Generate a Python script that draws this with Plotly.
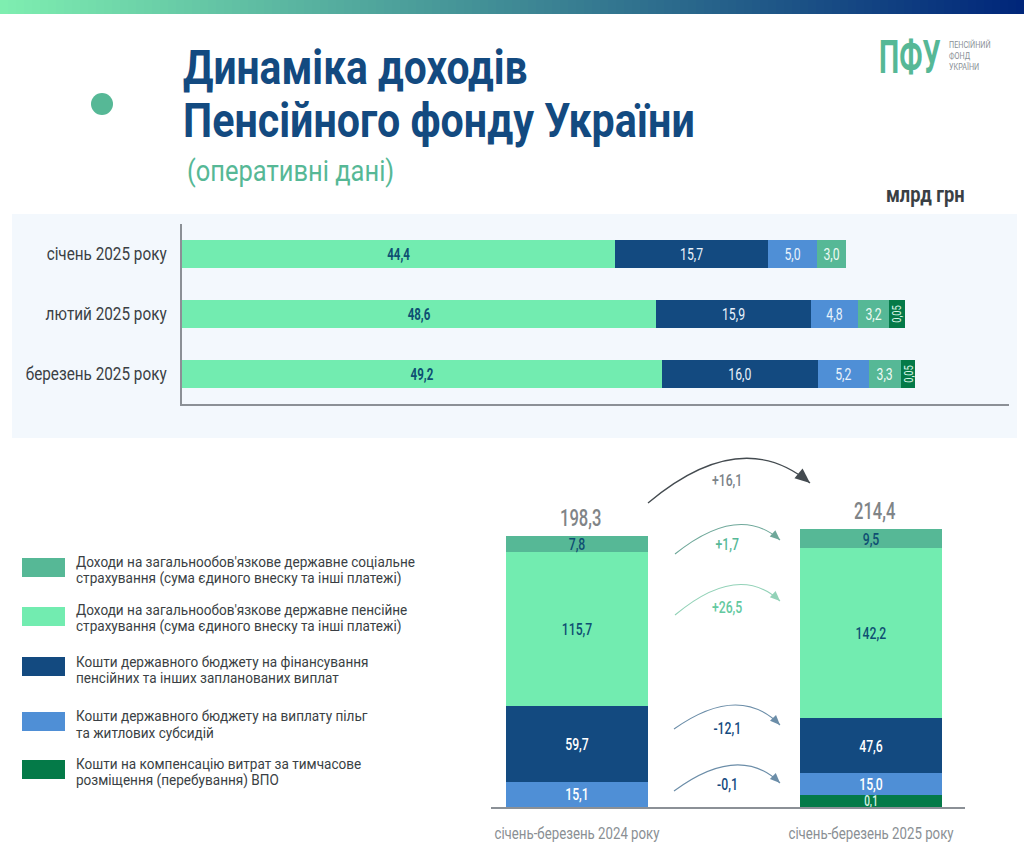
import plotly.graph_objects as go

W, H = 1024, 858
NARROW = "Roboto, sans-serif"

C_SOC = "#56b896"
C_PENS = "#72ecb0"
C_BUD = "#134a80"
C_SUB = "#4f8fd6"
C_VPO = "#047a48"
C_DARK = "#0e4f72"

# Monthly chart
months = ["січень 2025 року", "лютий 2025 року", "березень 2025 року"]
m_pens = [44.4, 48.6, 49.2]
m_bud = [15.7, 15.9, 16.0]
m_sub = [5.0, 4.8, 5.2]
m_soc = [3.0, 3.2, 3.3]
# the reference draws this tiny segment far wider than its printed value
m_vpo_drawn = [0, 1.6, 1.5]
m_vpo_text = ["", "0,05", "0,05"]

# Quarter chart: printed figures, and segment heights as the reference draws them
periods = ["січень-березень 2024 року", "січень-березень 2025 року"]
q_soc_text = ["7,8", "9,5"]
q_pens_text = ["115,7", "142,2"]
q_bud_text = ["59,7", "47,6"]
q_sub_text = ["15,1", "15,0"]
q_vpo_text = ["", "0,1"]
q_soc_drawn = [12.0, 14.3]
q_pens_drawn = [115.7, 127.8]
q_bud_drawn = [57.1, 41.4]
q_sub_drawn = [18.8, 16.5]
q_vpo_drawn = [0, 9.0]
q_totals = ["198,3", "214,4"]

# Change labels
delta_labels = ["+16,1", "+1,7", "+26,5", "-12,1", "-0,1"]
legend_labels = [
    ["Доходи на загальнообов'язкове державне соціальне", "страхування (сума єдиного внеску та інші платежі)"],
    ["Доходи на загальнообов'язкове державне пенсійне", "страхування (сума єдиного внеску та інші платежі)"],
    ["Кошти державного бюджету на фінансування", "пенсійних та інших запланованих виплат"],
    ["Кошти державного бюджету на виплату пільг", "та житлових субсидій"],
    ["Кошти на компенсацію витрат за тимчасове", "розміщення (перебування) ВПО"],
]


def fx(x):
    return x / W


def fy(y):
    return 1 - y / H


def fmt(vals):
    return [f"{v:.1f}".replace(".", ",") for v in vals]


fig = go.Figure()


def hbar(vals, color, text, tcolor, size=17, angle=0, weight=400):
    fig.add_trace(go.Bar(
        y=months, x=vals, orientation="h", marker=dict(color=color, line_width=0),
        text=text, textposition="inside", insidetextanchor="middle",
        textangle=angle, constraintext="none", cliponaxis=False,
        textfont=dict(family=NARROW, size=size, color=tcolor, weight=weight),
        hoverinfo="skip", xaxis="x", yaxis="y",
    ))


hbar(m_pens, C_PENS, fmt(m_pens), C_DARK, size=16, weight=700)
hbar(m_bud, C_BUD, fmt(m_bud), "#e8f2fb")
hbar(m_sub, C_SUB, fmt(m_sub), "#e8f2fb")
hbar(m_soc, C_SOC, fmt(m_soc), "#eefaf4")
hbar(m_vpo_drawn, C_VPO, m_vpo_text, "#d8f5e6", size=13, angle=-90)


def vbar(vals, color, text, tcolor, size=17):
    fig.add_trace(go.Bar(
        x=periods, y=vals, marker=dict(color=color, line_width=0),
        text=text, textposition="inside", insidetextanchor="middle",
        textangle=0, constraintext="none", cliponaxis=False,
        textfont=dict(family=NARROW, size=size, color=tcolor, weight=500),
        hoverinfo="skip", xaxis="x2", yaxis="y2",
    ))


vbar(q_vpo_drawn, C_VPO, q_vpo_text, "#d8f5e6", size=14)
vbar(q_sub_drawn, C_SUB, q_sub_text, "#ffffff")
vbar(q_bud_drawn, C_BUD, q_bud_text, "#ffffff")
vbar(q_pens_drawn, C_PENS, q_pens_text, C_DARK)
vbar(q_soc_drawn, C_SOC, q_soc_text, C_DARK)

shapes = []
# top gradient band
n = 128
c0, c1 = (126, 238, 176), (0, 38, 122)
for i in range(n):
    t = i / (n - 1)
    col = "rgb(%d,%d,%d)" % tuple(round(a + (b - a) * t) for a, b in zip(c0, c1))
    shapes.append(dict(type="rect", xref="paper", yref="paper", layer="below",
                       x0=i / n, x1=(i + 1) / n + 0.001, y0=fy(14), y1=1,
                       line_width=0, fillcolor=col))
# chart panel
shapes.append(dict(type="rect", xref="paper", yref="paper", layer="below",
                   x0=fx(12), x1=fx(1017), y0=fy(438), y1=fy(214),
                   line_width=0, fillcolor="#f3f8fd"))
# dot
shapes.append(dict(type="circle", xref="paper", yref="paper", layer="below",
                   x0=fx(91), x1=fx(113), y0=fy(115), y1=fy(93),
                   line_width=0, fillcolor=C_SOC))
# legend swatches
swatch_tops = [558, 607, 657, 712, 760]
swatch_cols = [C_SOC, C_PENS, C_BUD, C_SUB, C_VPO]
for top, col in zip(swatch_tops, swatch_cols):
    shapes.append(dict(type="rect", xref="paper", yref="paper",
                       x0=fx(22), x1=fx(65), y0=fy(top + 19), y1=fy(top),
                       line_width=0, fillcolor=col))


def arrow(start, top, end, color, width, head):
    cx = (top[0] - 0.25 * start[0] - 0.25 * end[0]) * 2
    cy = (top[1] - 0.25 * start[1] - 0.25 * end[1]) * 2
    path = (f"M {fx(start[0]):.5f},{fy(start[1]):.5f} "
            f"Q {fx(cx):.5f},{fy(cy):.5f} {fx(end[0]):.5f},{fy(end[1]):.5f}")
    shapes.append(dict(type="path", xref="paper", yref="paper", path=path,
                       line=dict(color=color, width=width)))
    dx, dy = end[0] - cx, end[1] - cy
    ln = (dx * dx + dy * dy) ** 0.5
    ux, uy = dx / ln, dy / ln
    bx, by = end[0] - ux * head, end[1] - uy * head
    wx, wy = -uy * head * 0.42, ux * head * 0.42
    tri = (f"M {fx(end[0]):.5f},{fy(end[1]):.5f} "
           f"L {fx(bx + wx):.5f},{fy(by + wy):.5f} "
           f"L {fx(bx - wx):.5f},{fy(by - wy):.5f} Z")
    shapes.append(dict(type="path", xref="paper", yref="paper", path=tri,
                       line_width=0, fillcolor=color))


arrow((648, 503), (735, 459), (810, 483), "#444b50", 1.3, 15)
arrow((675, 554), (733, 525), (780, 540), "#6fa89a", 1.1, 10)
arrow((675, 615), (733, 585), (780, 601), "#93d2b8", 1.1, 10)
arrow((674, 729), (733, 705), (780, 725), "#6b8da8", 1.1, 10)
arrow((674, 791), (733, 765), (780, 783), "#6b8da8", 1.1, 10)

ann = []


def note(x, y, text, size, color, anchor="left", weight=400):
    shift = 2.5 if anchor == "left" else 0
    ann.append(dict(xref="paper", yref="paper", x=fx(x - shift), y=fy(y), text=text,
                    showarrow=False, xanchor=anchor, yanchor="middle", align=anchor,
                    font=dict(family=NARROW, size=size, color=color, weight=weight)))


note(183, 68, "Динаміка доходів", 48, C_BUD, weight=700)
note(183, 120, "Пенсійного фонду України", 48.5, C_BUD, weight=700)
note(187, 171, "(оперативні дані)", 30, C_SOC)
note(925, 194, "млрд грн", 21.5, "#3a3f44", anchor="center", weight=700)
note(879, 57, "ПФУ", 46, C_SOC, weight=700)
note(949, 56, "ПЕНСІЙНИЙ<br>ФОНД<br>УКРАЇНИ", 8.5, "#8a9096")

delta_y = [480, 544, 607, 728, 784]
delta_cols = ["#7b8288", C_SOC, "#63c9a0", C_BUD, C_BUD]
for y, lab, col in zip(delta_y, delta_labels, delta_cols):
    note(727, y, lab, 17, col, anchor="center", weight=500)

legend_y = [570, 618.5, 670, 724.5, 772]
for y, (line1, line2) in zip(legend_y, legend_labels):
    note(76, y - 8.3, line1, 14, "#3a3f44")
    note(76, y + 8.3, line2, 14, "#3a3f44")

# totals above the stacks
q_heights = [a + b + c + d + e for a, b, c, d, e in
             zip(q_vpo_drawn, q_sub_drawn, q_bud_drawn, q_pens_drawn, q_soc_drawn)]
for p, h, t in zip(periods, q_heights, q_totals):
    ann.append(dict(xref="x2", yref="y2", x=p, y=h, text=t, showarrow=False,
                    xanchor="center", yanchor="bottom", yshift=2, xshift=3,
                    font=dict(family=NARROW, size=23, color="#808487", weight=500)))

fig.update_layout(
    width=W, height=H, autosize=False,
    margin=dict(l=0, r=0, t=0, b=0, autoexpand=False),
    paper_bgcolor="#ffffff", plot_bgcolor="rgba(0,0,0,0)",
    barmode="stack", showlegend=False, shapes=shapes, annotations=ann,
    xaxis=dict(domain=[fx(182), fx(1009)], range=[0, 84.8], anchor="y",
               visible=True, showgrid=False, zeroline=False, showticklabels=False,
               ticks="", showline=True, linecolor="#8b9096", linewidth=1.5),
    yaxis=dict(domain=[fy(404), fy(224)], anchor="x", autorange="reversed",
               type="category", showgrid=False, zeroline=False, ticks="",
               showline=True, linecolor="#8b9096", linewidth=1.5,
               ticklabelstandoff=10,
               tickfont=dict(family=NARROW, size=18, color="#3a3f44")),
    xaxis2=dict(domain=[fx(491), fx(965)], range=[-0.2925, 1.3197], anchor="y2",
                type="category", showgrid=False, zeroline=False, ticks="",
                showline=True, linecolor="#8b9096", linewidth=1.5,
                ticklabelstandoff=12,
                tickfont=dict(family=NARROW, size=15.6, color="#8a8f94")),
    yaxis2=dict(domain=[fy(807), fy(500)], range=[0, 230.8], anchor="x2",
                visible=False, showgrid=False, zeroline=False),
    bargap=0.517,
)

# The reference uses a condensed typeface; none is installed, so the real text
# is narrowed horizontally around its own anchor.
narrow_js = r"""
document.body.style.margin='0';
document.querySelectorAll('svg text').forEach(function(t){
  var s = t.textContent;
  var k = 0.85;
  if (/^[+\-]?[\d,]+$/.test(s)) k = 0.72;
  else if (s === 'ПФУ') k = 0.62;
  else if (parseFloat(t.style.fontSize) === 14) k = 0.97;
  var x = parseFloat(t.getAttribute('x') || 0);
  var old = t.getAttribute('transform') || '';
  t.setAttribute('transform', old + ' translate(' + x + ',0) scale(' + k + ',1) translate(' + (-x) + ',0)');
});
"""
fig.write_html("out.html", post_script=narrow_js, config=dict(displayModeBar=False))
